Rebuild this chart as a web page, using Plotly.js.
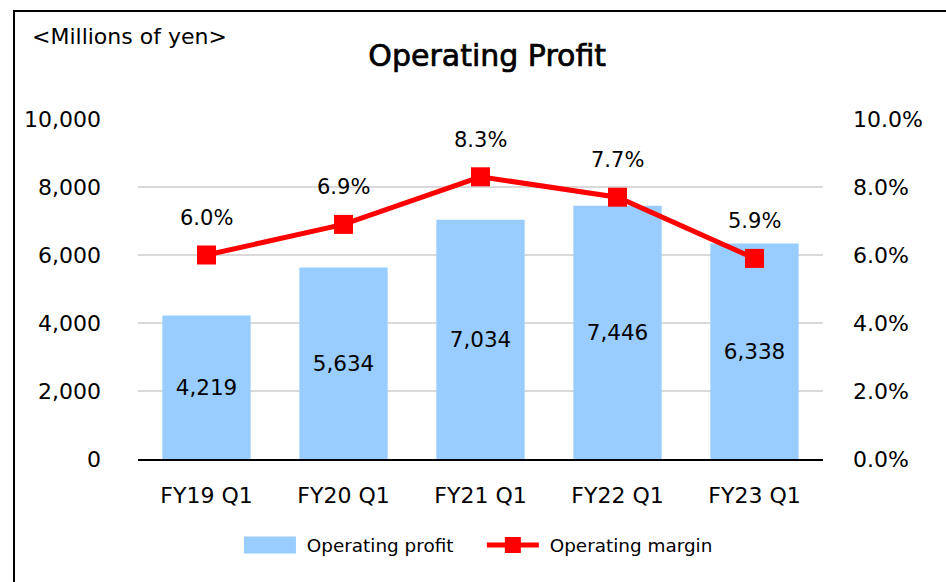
<!DOCTYPE html>
<html>
<head>
<meta charset="utf-8">
<script src="https://cdn.plot.ly/plotly-3.0.1.min.js"></script>
<style>
html,body{margin:0;padding:0;background:#fff;}
#wrap{position:relative;width:946px;height:582px;overflow:hidden;}
#frame{position:absolute;left:13px;top:10px;width:940px;height:600px;border-left:2px solid #000;border-top:2px solid #000;pointer-events:none;z-index:5;}
#chart{position:absolute;left:0;top:0;width:946px;height:582px;}
</style>
</head>
<body>
<div id="wrap"><div id="chart"></div><div id="frame"></div></div>
<script>
const categories = ["FY19 Q1", "FY20 Q1", "FY21 Q1", "FY22 Q1", "FY23 Q1"];
const operatingProfit = [4219, 5634, 7034, 7446, 6338];
const operatingMargin = [0.060, 0.069, 0.083, 0.077, 0.059];
const profitLabels = ["4,219", "5,634", "7,034", "7,446", "6,338"];
const marginLabels = ["6.0%", "6.9%", "8.3%", "7.7%", "5.9%"];
const seriesNames = ["Operating profit", "Operating margin"];

const FONT = "DejaVu Sans, Verdana, sans-serif";
const NBSP = "\u00a0";

const barTrace = {
  type: "bar",
  name: NBSP + seriesNames[0] + NBSP.repeat(4),
  x: categories,
  y: operatingProfit,
  text: profitLabels,
  texttemplate: "%{text}",
  textposition: "inside",
  insidetextanchor: "middle",
  textangle: 0,
  textfont: {family: FONT, size: 21.5, color: "#000"},
  marker: {color: "#99ccff", line: {width: 0}},
  hoverinfo: "skip"
};

const lineTrace = {
  type: "scatter",
  mode: "lines+markers",
  name: NBSP + seriesNames[1],
  x: categories,
  y: operatingMargin,
  yaxis: "y2",
  line: {color: "#ff0000", width: 5},
  marker: {symbol: "square", size: 19, color: "#ff0000"},
  hoverinfo: "skip"
};

const annotations = categories.map((c, i) => ({
  x: c, y: operatingMargin[i], xref: "x", yref: "y2",
  text: marginLabels[i], showarrow: false, yshift: 37,
  font: {family: FONT, size: 21, color: "#000"}
}));
annotations.push({
  xref: "paper", yref: "paper", x: -0.158, y: 1.242, xanchor: "left", yanchor: "middle",
  text: "&lt;Millions of yen&gt;", showarrow: false,
  font: {family: FONT, size: 22, color: "#000"}
});

const layout = {
  width: 946, height: 582,
  margin: {l: 138, r: 123, t: 119, b: 123, pad: 0},
  paper_bgcolor: "#fff", plot_bgcolor: "#fff",
  showlegend: true,
  bargap: 0.355,
  title: {text: "Operating Profit", x: 0.515, xanchor: "center", y: 0.905, yanchor: "middle",
          font: {family: FONT, size: 30, color: "#000"}},
  font: {family: FONT, size: 20, color: "#000"},
  xaxis: {
    type: "category", showgrid: false, zeroline: false,
    showline: true, linecolor: "#000", linewidth: 2,
    ticks: "", ticklabelstandoff: 16,
    tickfont: {family: FONT, size: 22, color: "#000"}
  },
  yaxis: {
    range: [0, 10000], dtick: 2000, tickformat: ",d",
    showgrid: true, gridcolor: "#d9d9d9", gridwidth: 1.5,
    zeroline: false, showline: false, ticks: "", ticklabelstandoff: 36,
    tickfont: {family: FONT, size: 22, color: "#000"}, fixedrange: true
  },
  yaxis2: {
    overlaying: "y", side: "right",
    range: [0, 0.1], dtick: 0.02, tickformat: ".1%",
    showgrid: false, zeroline: false, showline: false, ticks: "", ticklabelstandoff: 29,
    tickfont: {family: FONT, size: 22, color: "#000"}, fixedrange: true
  },
  legend: {
    orientation: "h", x: 0.497, xanchor: "center", y: -0.253, yanchor: "middle",
    font: {family: FONT, size: 18.4, color: "#000"},
    itemwidth: 52, tracegroupgap: 0
  },
  annotations: annotations
};

function polish() {
  const gd = document.getElementById("chart");
  gd.querySelectorAll(".legend .traces").forEach(tr => {
    tr.querySelectorAll(".legendpoints path").forEach(p => {
      const d = p.getAttribute("d") || "";
      if (/^M6,6H-6V-6H6Z/.test(d) || p.classList.contains("legendbar")) {
        p.setAttribute("d", "M26,8.5H-26V-8.5H26Z");
      }
    });
  });
  // give the title a slightly heavier (semi-bold) look
  gd.querySelectorAll(".gtitle").forEach(t => {
    t.style.stroke = "#000";
    t.style.strokeWidth = "0.7px";
    t.style.paintOrder = "stroke";
  });
}

Plotly.newPlot("chart", [barTrace, lineTrace], layout, {displayModeBar: false, staticPlot: true}).then(gd => {
  polish();
  setTimeout(polish, 0);
  gd.on && gd.on("plotly_afterplot", polish);
});
</script>
</body>
</html>
